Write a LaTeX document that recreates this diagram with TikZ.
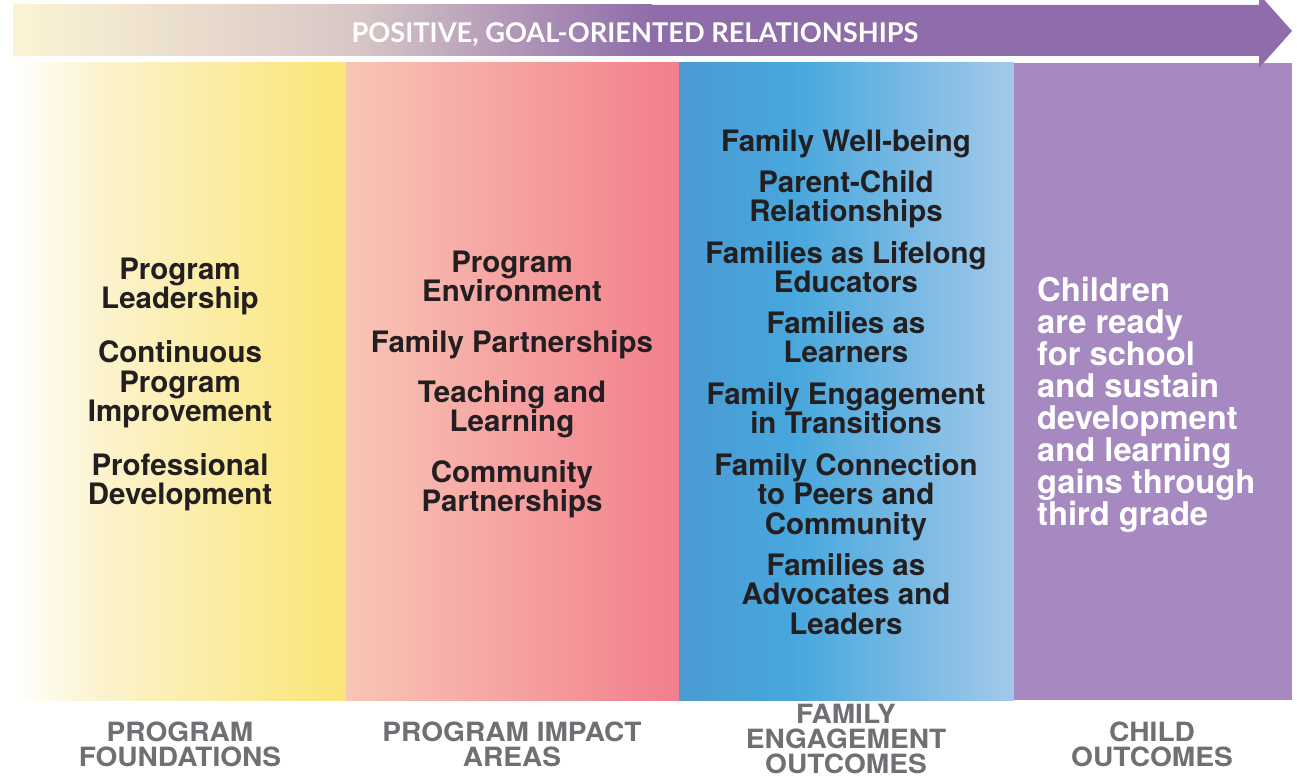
\documentclass[tikz,border=0pt]{standalone}
\usepackage{fontspec}
\setmainfont{TeX Gyre Heros}
\newfontfamily\titlefont{Lato}
\newfontfamily\labelfont[FakeStretch=1.06]{TeX Gyre Heros}

\definecolor{ink}{HTML}{231F20}
\definecolor{labelgray}{HTML}{6F7073}
\definecolor{bandpale}{HTML}{FCF4D4}
\definecolor{bandmid}{HTML}{D8C6C6}
\definecolor{bandpurple}{HTML}{8E6DAA}
\definecolor{yellowpale}{HTML}{FFFFFF}
\definecolor{yellowsoft}{HTML}{FCF3CF}
\definecolor{yellowdeep}{HTML}{FAE67B}
\definecolor{pinkpale}{HTML}{F9C6B6}
\definecolor{pinkdeep}{HTML}{F27E8C}
\definecolor{bluedark}{HTML}{4B9AD2}
\definecolor{bluebright}{HTML}{47A7DD}
\definecolor{bluepale}{HTML}{A3C9EA}
\definecolor{childpurple}{HTML}{A589C0}

\pgfdeclarehorizontalshading{bandshade}{100bp}{color(0bp)=(bandpale); color(25bp)=(bandpale);
  color(52bp)=(bandmid); color(75bp)=(bandpurple); color(100bp)=(bandpurple)}
\pgfdeclarehorizontalshading{foundshade}{100bp}{color(0bp)=(yellowpale); color(25bp)=(yellowpale);
  color(38bp)=(yellowsoft); color(72bp)=(yellowdeep); color(100bp)=(yellowdeep)}
\pgfdeclarehorizontalshading{impactshade}{100bp}{color(0bp)=(pinkpale); color(25bp)=(pinkpale);
  color(75bp)=(pinkdeep); color(100bp)=(pinkdeep)}
\pgfdeclarehorizontalshading{familyshade}{100bp}{color(0bp)=(bluedark); color(25bp)=(bluedark);
  color(42bp)=(bluebright); color(75bp)=(bluepale); color(100bp)=(bluepale)}

\begin{document}
\begin{tikzpicture}[x=1pt,y=-1pt,
  item/.style={anchor=base, align=center, inner sep=0pt, text=ink,
    font=\fontsize{29.5}{29.6}\selectfont\bfseries},
  outcome/.style={item, font=\fontsize{29.5}{29.2}\selectfont\bfseries},
  child/.style={anchor=base west, align=left, inner sep=0pt, text=white,
    font=\fontsize{32.7}{32}\selectfont\bfseries},
  colname/.style={anchor=base, align=center, inner sep=0pt, text=labelgray,
    font=\labelfont\bfseries\fontsize{26.5}{25}\selectfont}]
\useasboundingbox (0,0) rectangle (1297,778);

% columns
\path[shading=foundshade] (12,63) rectangle (346,700);
\path[shading=impactshade] (346,63) rectangle (679,700);
\path[shading=familyshade] (679,63) rectangle (1014,700);
\fill[childpurple] (1014,63) rectangle (1292,700);

% arrow on top
\fill[bandpurple] (13,5) -- (1259,5) -- (1259,-6) -- (1292,31) -- (1259,68)
  -- (1259,56) -- (13,56) -- cycle;
\path[shading=bandshade] (13,5) rectangle (652,56);
\node[text=white, inner sep=0pt, font=\titlefont\bfseries\fontsize{27.2}{27}\selectfont]
  (title) at (635,34) {POSITIVE, GOAL-ORIENTED RELATIONSHIPS};

% program foundations
\node[item] (leader) at (180,308.6) {Program\\Leadership};
\node[item] (improve) at (180,421.6) {Continuous\\Program\\Improvement};
\node[item] (profdev) at (180,504.6) {Professional\\Development};

% program impact areas
\node[item] (environ) at (512,301.6) {Program\\Environment};
\node[item] (partners) at (512,352) {Family Partnerships};
\node[item] (teaching) at (512,431.6) {Teaching and\\Learning};
\node[item] (communit) at (512,511.6) {Community\\Partnerships};

% family engagement outcomes
\node[outcome] (wellbeing) at (846,151.6) {Family Well-being};
\node[outcome] (parent) at (846,221.4) {Parent-Child\\Relationships};
\node[outcome] (educators) at (846,292.3) {Families as Lifelong\\Educators};
\node[outcome] (learners) at (846,362.3) {Families as\\Learners};
\node[outcome] (transit) at (846,433.3) {Family Engagement\\in Transitions};
\node[outcome] (peers) at (846,534) {Family Connection\\to Peers and\\Community};
\node[outcome] (advocates) at (846,634) {Families as\\Advocates and\\Leaders};

% child outcomes
\node[child] (ready) at (1037,525) {Children\\are ready\\for school\\and sustain\\development\\and learning\\gains through\\third grade};

% column names
\node[colname] (foundname) at (180,766) {PROGRAM\\FOUNDATIONS};
\node[colname] (impactname) at (512,766) {PROGRAM IMPACT\\AREAS};
\node[colname] (familyname) at (846,773) {FAMILY\\ENGAGEMENT\\OUTCOMES};
\node[colname] (childname) at (1152,766) {CHILD\\OUTCOMES};
\end{tikzpicture}
\end{document}
